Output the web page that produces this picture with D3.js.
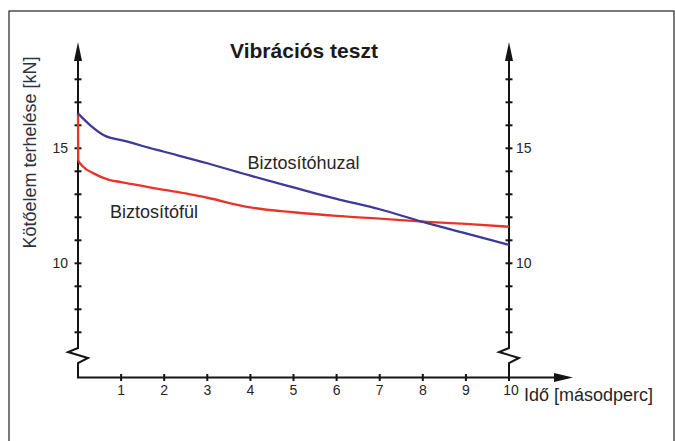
<!DOCTYPE html>
<html>
<head>
<meta charset="utf-8">
<script src="https://cdn.jsdelivr.net/npm/d3@7/dist/d3.min.js"></script>
<style>
html,body{margin:0;padding:0;background:#fff;}
svg{display:block;}
</style>
</head>
<body>
<svg id="chart" width="675" height="441"></svg>
<script>
// ---- data ----
const title = "Vibrációs teszt";
const yLabel = "Kötőelem terhelése [kN]";
const xLabel = "Idő [másodperc]";
const xTickValues = [1, 2, 3, 4, 5, 6, 7, 8, 9, 10];
const yTickValues = [7, 8, 9, 10, 11, 12, 13, 14, 15, 16, 17, 18];
const yTickLabels = [10, 15];

const huzalName = "Biztosítóhuzal";
const huzalX = [0, 0.28, 0.59, 1.13, 1.5, 2, 3, 4, 5, 6, 7, 8, 9, 10];
const huzalY = [16.52, 16.01, 15.58, 15.3, 15.1, 14.85, 14.35, 13.81, 13.3, 12.8, 12.35, 11.8, 11.3, 10.8];

const fulName = "Biztosítófül";
const fulX = [0, 0.005, 0.12, 0.36, 0.74, 1, 2, 2.5, 3, 4, 5, 6, 7, 8, 9, 10];
const fulY = [16.5, 14.49, 14.2, 13.91, 13.62, 13.53, 13.19, 13.04, 12.85, 12.43, 12.22, 12.06, 11.94, 11.81, 11.71, 11.59];

// ---- layout ----
const svg = d3.select("#chart");
const x = d3.scaleLinear().domain([0, 10]).range([78, 509]);
const y = d3.scaleLinear().domain([7, 18]).range([332.3, 79.3]);
const axisY = 377.5;
const axisTop = 42;
const ink = "#141414";
const textCol = "#262626";
const narrow = "'Liberation Sans Narrow','Liberation Sans',Arial,sans-serif";
const sans = "'Liberation Sans',Arial,sans-serif";

// frame
svg.append("rect").attr("x", 9).attr("y", 11).attr("width", 665).attr("height", 460)
  .attr("fill", "none").attr("stroke", "#333").attr("stroke-width", 1.3);

// title
svg.append("text").attr("x", 304).attr("y", 58).attr("text-anchor", "middle")
  .attr("font-family", sans).attr("font-weight", "bold").attr("font-size", 21)
  .attr("fill", "#1a1a1a").text(title);

// vertical axes with break
function vAxis(x0, labelSide) {
  const path = d3.path();
  path.moveTo(x0, axisY);
  path.lineTo(x0, 363);
  path.lineTo(x0 + 10, 358);
  path.lineTo(x0 - 10, 352);
  path.lineTo(x0, 348);
  path.lineTo(x0, axisTop + 12);
  svg.append("path").attr("d", path.toString()).attr("fill", "none")
    .attr("stroke", ink).attr("stroke-width", 2).attr("stroke-linejoin", "miter");
  svg.append("path")
    .attr("d", `M${x0},${axisTop} L${x0 + 4},${axisTop + 19} L${x0 - 4},${axisTop + 19} Z`)
    .attr("fill", ink);
  svg.append("g").selectAll("line").data(yTickValues).join("line")
    .attr("x1", x0 - 3.5).attr("x2", x0 + 3.5)
    .attr("y1", d => y(d)).attr("y2", d => y(d))
    .attr("stroke", ink).attr("stroke-width", 2);
  svg.append("g").selectAll("text").data(yTickLabels).join("text")
    .attr("x", labelSide < 0 ? x0 - 10 : x0 + 7)
    .attr("y", d => y(d) + 5)
    .attr("text-anchor", labelSide < 0 ? "end" : "start")
    .attr("font-family", narrow).attr("font-size", 14).attr("fill", textCol)
    .text(d => d);
}
vAxis(x(0), -1);
vAxis(x(10), 1);

// horizontal axis
svg.append("line").attr("x1", x(0) - 1).attr("x2", 560).attr("y1", axisY).attr("y2", axisY)
  .attr("stroke", ink).attr("stroke-width", 2);
svg.append("path")
  .attr("d", `M573,${axisY} L554,${axisY - 4.5} L554,${axisY + 4.5} Z`).attr("fill", ink);
svg.append("g").selectAll("line").data(xTickValues).join("line")
  .attr("x1", d => x(d)).attr("x2", d => x(d))
  .attr("y1", axisY - 3.5).attr("y2", axisY + 3.5)
  .attr("stroke", ink).attr("stroke-width", 2);
svg.append("g").selectAll("text").data(xTickValues).join("text")
  .attr("x", d => x(d) + (d === 10 ? 2 : 0)).attr("y", 395)
  .attr("text-anchor", "middle")
  .attr("font-family", narrow).attr("font-size", 14).attr("fill", textCol)
  .text(d => d);

// axis labels
svg.append("text").attr("x", 524).attr("y", 401)
  .attr("font-family", sans).attr("font-size", 18).attr("fill", textCol).text(xLabel);
svg.append("text").attr("transform", "translate(36,152.5) rotate(-90)")
  .attr("text-anchor", "middle")
  .attr("font-family", sans).attr("font-size", 18).attr("fill", "#2b3340").text(yLabel);

// series
const line = d3.line().x(d => x(d[0])).y(d => y(d[1])).curve(d3.curveMonotoneX);
svg.append("path").datum(d3.zip(fulX, fulY)).attr("d", line)
  .attr("fill", "none").attr("stroke", "#e8342c").attr("stroke-width", 2.3);
svg.append("path").datum(d3.zip(huzalX, huzalY)).attr("d", line)
  .attr("fill", "none").attr("stroke", "#3d3a9a").attr("stroke-width", 2.3);

// series labels
svg.append("text").attr("x", 247.5).attr("y", 169)
  .attr("font-family", sans).attr("font-size", 18).attr("fill", textCol).text(huzalName);
svg.append("text").attr("x", 110).attr("y", 218)
  .attr("font-family", sans).attr("font-size", 18).attr("fill", textCol).text(fulName);
</script>
</body>
</html>
